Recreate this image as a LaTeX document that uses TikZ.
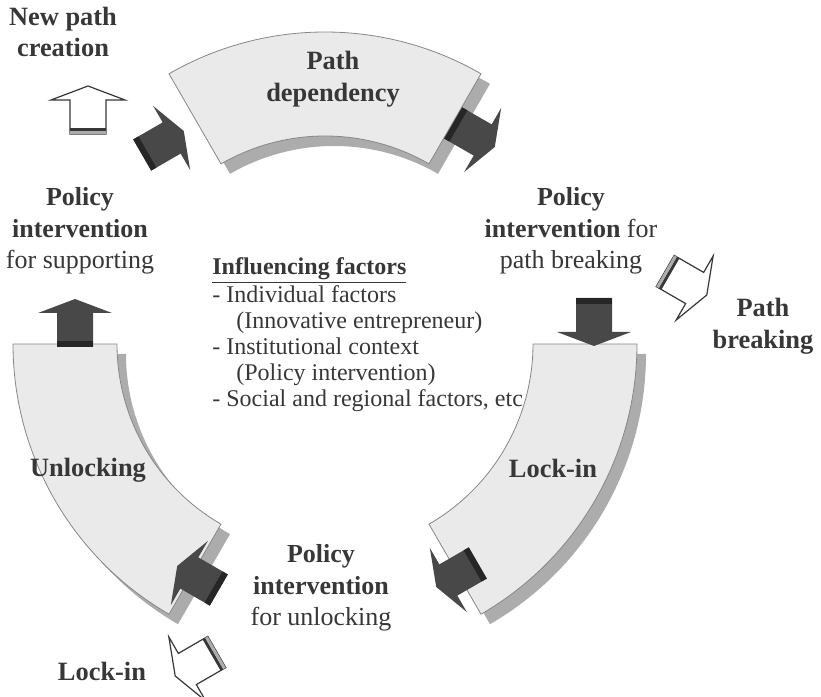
\documentclass[tikz,border=0pt]{standalone}
\usepackage{fontspec}
\setmainfont{Liberation Serif}
\definecolor{ink}{RGB}{55,55,55}
\definecolor{segfill}{RGB}{234,234,234}
\definecolor{segline}{RGB}{135,135,135}
\definecolor{segshadow}{RGB}{172,172,172}
\definecolor{arrowdark}{RGB}{72,72,72}
\begin{document}
\begin{tikzpicture}[x=0.5pt,y=0.5pt,
	seg/.style={fill=segfill,draw=segline,line width=0.4pt},
	segshade/.style={fill=segshadow},
	lbl/.style={text=ink,align=center,font=\fontsize{13}{15.8}\selectfont},
	boldlbl/.style={text=ink,align=center,font=\fontsize{13.2}{15.8}\selectfont\bfseries},
	factors/.style={text=ink,align=left,font=\fontsize{12}{13}\selectfont,inner sep=0pt},
	pics/darkarrow/.style={code={
		\fill[arrowdark] (-24,-18)--(10,-18)--(10,-37)--(24,0)--(10,37)--(10,18)--(-24,18)--cycle;
		\fill[black!85] (-24,-18) rectangle (-18,18);}},
	pics/whitearrow/.style={code={
		\draw[ink,fill=white,line width=0.6pt] (-24,-18)--(10,-18)--(10,-37)--(24,0)--(10,37)--(10,18)--(-24,18)--cycle;
		\fill[ink] (-21,-18) rectangle (-18,18);
		\fill[segshadow] (-24,-18) rectangle (-21,18);}}]
		\useasboundingbox (0,0) rectangle (821,697);
		\begin{scope}[shift={(334,343)}]
		\fill[segshade] (60:312) arc (60:120:312) -- (120:208) arc (120:60:208) -- cycle;
		\fill[segshade] (-60:312) arc (-60:0:312) -- (0:208) arc (0:-60:208) -- cycle;
		\fill[segshade] (180:312) arc (180:240:312) -- (240:208) arc (240:180:208) -- cycle;
		\end{scope}
		\begin{scope}[shift={(325,353)}]
		\draw[seg] (60:312) arc (60:120:312) -- (120:208) arc (120:60:208) -- cycle;
		\draw[seg] (-60:312) arc (-60:0:312) -- (0:208) arc (0:-60:208) -- cycle;
		\draw[seg] (180:312) arc (180:240:312) -- (240:208) arc (240:180:208) -- cycle;
		\end{scope}
		\node[boldlbl] (pathdep) at (333,618) {Path\\dependency};
		\node[boldlbl] (lockin) at (553,229) {Lock-in};
		\node[boldlbl] (unlocking) at (88,227) {Unlocking};
		\node[boldlbl] (newpath) at (63,665) {New path\\creation};
		\node[boldlbl] (pathbreak) at (763,371) {Path\\breaking};
		\node[boldlbl] (lockout) at (102,26) {Lock-in};
		\node[lbl] (supporting) at (80,466) {\textbf{Policy}\\\textbf{intervention}\\for supporting};
		\node[lbl] (breaking) at (571,466) {\textbf{Policy}\\\textbf{intervention} for\\path breaking};
		\node[lbl] (unlockpolicy) at (321,109) {\textbf{Policy}\\\textbf{intervention}\\for unlocking};
		\node[factors,anchor=north west] (factors) at (212,440) {\textbf{\underline{Influencing factors}}\\- Individual factors\\\quad(Innovative entrepreneur)\\- Institutional context\\\quad(Policy intervention)\\- Social and regional factors, etc};
		\pic[rotate=90] at (75,374) {darkarrow};
		\pic[rotate=30] at (163,554) {darkarrow};
		\pic[rotate=-30] at (474,562) {darkarrow};
		\pic[rotate=-90] at (594,375) {darkarrow};
		\pic[rotate=210] at (457,122) {darkarrow};
		\pic[rotate=150] at (198,119) {darkarrow};
		\pic[rotate=90] at (88,587) {whitearrow};
		\pic[rotate=-30] at (686,414) {whitearrow};
		\pic[rotate=210] at (196,33) {whitearrow};
\end{tikzpicture}
\end{document}
